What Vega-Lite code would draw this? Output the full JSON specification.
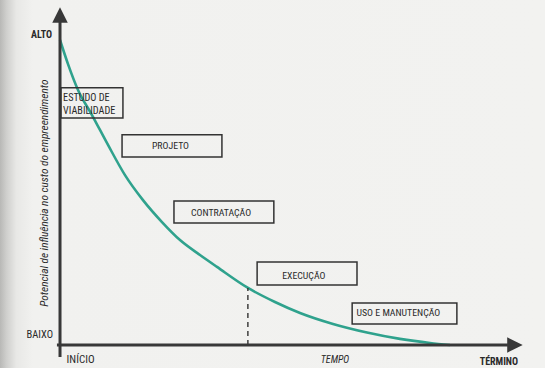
{
  "$schema": "https://vega.github.io/schema/vega-lite/v6.json",
  "width": 545,
  "height": 368,
  "autosize": {"type": "fit", "contains": "padding"},
  "padding": 0,
  "background": "#f1f1ef",
  "config": {
    "view": {
      "stroke": null,
      "fill": {
        "gradient": "linear", "x1": 0, "y1": 0, "x2": 1, "y2": 0,
        "stops": [
          {"offset": 0, "color": "#b8b8b6"},
          {"offset": 0.012, "color": "#cfcfcd"},
          {"offset": 0.03, "color": "#e8e8e6"},
          {"offset": 0.06, "color": "#f1f1ef"},
          {"offset": 1, "color": "#f2f2f0"}
        ]
      }
    },
    "text": {"font": "Roboto Condensed, Roboto, sans-serif", "color": "#2a2a2a"}
  },
  "datasets": {
    "curve": [
      {"t": 0, "p": 100},
      {"t": 1.82, "p": 92.1},
      {"t": 4.09, "p": 83.6},
      {"t": 7.27, "p": 75.4},
      {"t": 10.91, "p": 65.6},
      {"t": 14.77, "p": 55.7},
      {"t": 18.86, "p": 47.5},
      {"t": 23.18, "p": 40.3},
      {"t": 27.27, "p": 34.4},
      {"t": 31.82, "p": 29.5},
      {"t": 35.68, "p": 25.6},
      {"t": 42.73, "p": 18.7},
      {"t": 48.86, "p": 14.1},
      {"t": 54.55, "p": 10.5},
      {"t": 62.05, "p": 6.9},
      {"t": 69.77, "p": 4.1},
      {"t": 77.27, "p": 2.0},
      {"t": 84.09, "p": 0.66},
      {"t": 88.64, "p": 0}
    ],
    "axes": [
      {"t": 0, "t2": 0, "p": -3.9, "p2": 105.9},
      {"t": -0.7, "t2": 101.8, "p": 0, "p2": 0}
    ],
    "marker": [{"t": 42.7, "p": 0, "p2": 18.7}],
    "boxes": [
      {"fase": "ESTUDO DE VIABILIDADE", "t": 0.2, "t2": 14.3, "p": 84.3, "p2": 74.4},
      {"fase": "PROJETO", "t": 14.1, "t2": 36.8, "p": 68.9, "p2": 61.6},
      {"fase": "CONTRATAÇÃO", "t": 25.9, "t2": 48.6, "p": 47.2, "p2": 40.0},
      {"fase": "EXECUÇÃO", "t": 44.8, "t2": 67.5, "p": 27.2, "p2": 19.7},
      {"fase": "USO E MANUTENÇÃO", "t": 66.4, "t2": 90.2, "p": 13.8, "p2": 6.9}
    ],
    "boxlabels": [
      {"text": "PROJETO", "t": 25.1, "p": 65.2},
      {"text": "CONTRATAÇÃO", "t": 36.6, "p": 43.2},
      {"text": "EXECUÇÃO", "t": 55.4, "p": 22.6},
      {"text": "USO E MANUTENÇÃO", "t": 76.9, "p": 10.6}
    ],
    "estudo": [
      {"text": "ESTUDO DE", "t": 0.7, "p": 81.0},
      {"text": "VIABILIDADE", "t": 0.7, "p": 76.7}
    ]
  },
  "layer": [
    {
      "data": {"name": "curve"},
      "mark": {"type": "line", "interpolate": "monotone", "color": "#2fa28d", "strokeWidth": 2.6},
      "encoding": {
        "x": {"field": "t", "type": "quantitative", "axis": null, "scale": {"domain": [-13.64, 110.23], "nice": false, "zero": false}},
        "y": {"field": "p", "type": "quantitative", "axis": null, "scale": {"domain": [-7.54, 113.11], "nice": false, "zero": false}}
      }
    },
    {
      "data": {"name": "marker"},
      "mark": {"type": "rule", "color": "#333333", "strokeWidth": 1.4, "strokeDash": [5, 4]},
      "encoding": {
        "x": {"field": "t", "type": "quantitative"},
        "y": {"field": "p", "type": "quantitative"},
        "y2": {"field": "p2"}
      }
    },
    {
      "data": {"name": "axes"},
      "mark": {"type": "rule", "color": "#383838", "strokeWidth": 3},
      "encoding": {
        "x": {"field": "t", "type": "quantitative"},
        "x2": {"field": "t2"},
        "y": {"field": "p", "type": "quantitative"},
        "y2": {"field": "p2"}
      }
    },
    {
      "data": {"values": [{"t": 0, "p": 108.2}]},
      "mark": {"type": "point", "shape": "M0,-1L1,1L-1,1Z", "size": 240, "filled": true, "color": "#383838", "opacity": 1},
      "encoding": {
        "x": {"field": "t", "type": "quantitative"},
        "y": {"field": "p", "type": "quantitative"}
      }
    },
    {
      "data": {"values": [{"t": 103.4, "p": 0}]},
      "mark": {"type": "point", "shape": "M1,0L-1,-1L-1,1Z", "size": 240, "filled": true, "color": "#383838", "opacity": 1},
      "encoding": {
        "x": {"field": "t", "type": "quantitative"},
        "y": {"field": "p", "type": "quantitative"}
      }
    },
    {
      "data": {"name": "boxes"},
      "mark": {"type": "rect", "fill": null, "fillOpacity": 0, "stroke": "#333333", "strokeWidth": 1.5},
      "encoding": {
        "x": {"field": "t", "type": "quantitative"},
        "x2": {"field": "t2"},
        "y": {"field": "p", "type": "quantitative"},
        "y2": {"field": "p2"}
      }
    },
    {
      "data": {"name": "boxlabels"},
      "mark": {"type": "text", "fontSize": 9.8, "align": "center", "baseline": "middle"},
      "encoding": {
        "x": {"field": "t", "type": "quantitative"},
        "y": {"field": "p", "type": "quantitative"},
        "text": {"field": "text"}
      }
    },
    {
      "data": {"name": "estudo"},
      "mark": {"type": "text", "fontSize": 10.2, "align": "left", "baseline": "middle"},
      "encoding": {
        "x": {"field": "t", "type": "quantitative"},
        "y": {"field": "p", "type": "quantitative"},
        "text": {"field": "text"}
      }
    },
    {
      "data": {"values": [{"text": "ALTO", "t": -1.8, "p": 101.6}]},
      "mark": {"type": "text", "fontSize": 10, "fontWeight": "bold", "align": "right", "baseline": "middle"},
      "encoding": {
        "x": {"field": "t", "type": "quantitative"},
        "y": {"field": "p", "type": "quantitative"},
        "text": {"field": "text"}
      }
    },
    {
      "data": {"values": [{"text": "BAIXO", "t": -1.6, "p": 3.3}]},
      "mark": {"type": "text", "fontSize": 10.5, "align": "right", "baseline": "middle"},
      "encoding": {
        "x": {"field": "t", "type": "quantitative"},
        "y": {"field": "p", "type": "quantitative"},
        "text": {"field": "text"}
      }
    },
    {
      "data": {"values": [{"text": "INÍCIO", "t": 1.5, "p": -4.9}]},
      "mark": {"type": "text", "fontSize": 11, "align": "left", "baseline": "middle"},
      "encoding": {
        "x": {"field": "t", "type": "quantitative"},
        "y": {"field": "p", "type": "quantitative"},
        "text": {"field": "text"}
      }
    },
    {
      "data": {"values": [{"text": "TEMPO", "t": 62.5, "p": -4.9}]},
      "mark": {"type": "text", "fontSize": 10, "fontStyle": "italic", "align": "center", "baseline": "middle"},
      "encoding": {
        "x": {"field": "t", "type": "quantitative"},
        "y": {"field": "p", "type": "quantitative"},
        "text": {"field": "text"}
      }
    },
    {
      "data": {"values": [{"text": "TÉRMINO", "t": 104.1, "p": -5.6}]},
      "mark": {"type": "text", "fontSize": 10, "fontWeight": "bold", "align": "right", "baseline": "middle"},
      "encoding": {
        "x": {"field": "t", "type": "quantitative"},
        "y": {"field": "p", "type": "quantitative"},
        "text": {"field": "text"}
      }
    },
    {
      "data": {"values": [{"text": "Potencial de influência no custo do empreendimento", "t": -3.4, "p": 49.8}]},
      "mark": {"type": "text", "fontSize": 11.3, "fontStyle": "italic", "angle": 270, "align": "center", "baseline": "middle"},
      "encoding": {
        "x": {"field": "t", "type": "quantitative"},
        "y": {"field": "p", "type": "quantitative"},
        "text": {"field": "text"}
      }
    }
  ]
}
